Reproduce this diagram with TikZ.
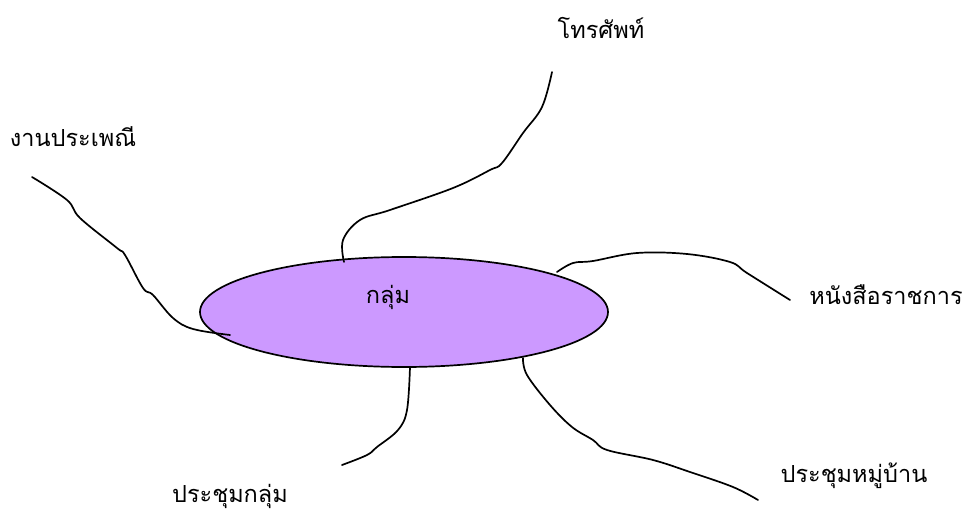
\documentclass[tikz,border=0pt]{standalone}
\usepackage{fontspec}
\usetikzlibrary{shapes.geometric,calc}
\newfontfamily\thaifont[Script=Thai]{Loma}
\definecolor{grpfill}{RGB}{204,153,255}
\tikzstyle{grpshape}=[ellipse,draw=black,fill=grpfill,line width=1.7pt,minimum width=408pt,minimum height=110pt,inner sep=0pt]
\tikzstyle{lbl}=[inner sep=0pt,font=\thaifont\fontsize{23.5}{26}\selectfont]
\tikzstyle{wiggle}=[line width=1.7pt,line cap=round]

\begin{document}
\begin{tikzpicture}[x=1pt,y=-1pt]
    \useasboundingbox[fill=white] (0,0) rectangle (967,519);
    \node[grpshape] (grp) at (404,312) {};
    \node[lbl] (grptxt) at (388,297) {กลุ่ม};

    \node[lbl] (tel)     at (601,28)  {โทรศัพท์};
    \node[lbl] (fest)    at (73,137)  {งานประเพณี};
    \node[lbl] (letter)  at (886,295) {หนังสือราชการ};
    \node[lbl] (meetgrp) at (230,496) {ประชุมกลุ่ม};
    \node[lbl] (meetvil) at (854,476) {ประชุมหมู่บ้าน};

    % ends of the hand drawn lines
    \coordinate (fest0) at ($(grp)+(-174,23)$);
    \coordinate (tel0) at ($(grp)+(-60,-50)$);
    \coordinate (letter0) at ($(grp)+(153,-40)$);
    \coordinate (meetgrp0) at ($(grp)+(6,55)$);
    \coordinate (meetvil0) at ($(grp)+(119,46)$);
    \coordinate (fest1) at (32,177);
    \coordinate (tel1) at (552,72);
    \coordinate (letter1) at (790,300);
    \coordinate (meetgrp1) at (342,465);
    \coordinate (meetvil1) at (758,500);

    \draw[wiggle] plot[smooth,tension=0.6] coordinates {(fest1) (67,200) (80,218) (117,248) (125,255) (143,288) (153,295) (173,318) (193,329) (fest0)};
    \draw[wiggle] plot[smooth,tension=0.6] coordinates {(tel0) (343,240) (360,220) (390,210) (453,188) (490,170) (502,163) (523,133) (542,107) (tel1)};
    \draw[wiggle] plot[smooth,tension=0.6] coordinates {(letter0) (573,263) (593,261) (637,253) (687,254) (730,262) (747,273) (letter1)};
    \draw[wiggle] plot[smooth,tension=0.6] coordinates {(meetgrp0) (407,410) (398,430) (377,447) (367,455) (meetgrp1)};
    \draw[wiggle] plot[smooth,tension=0.6] coordinates {(meetvil0) (527,375) (550,405) (572,427) (593,440) (607,450) (653,460) (690,472) (733,487) (meetvil1)};
\end{tikzpicture}
\end{document}
